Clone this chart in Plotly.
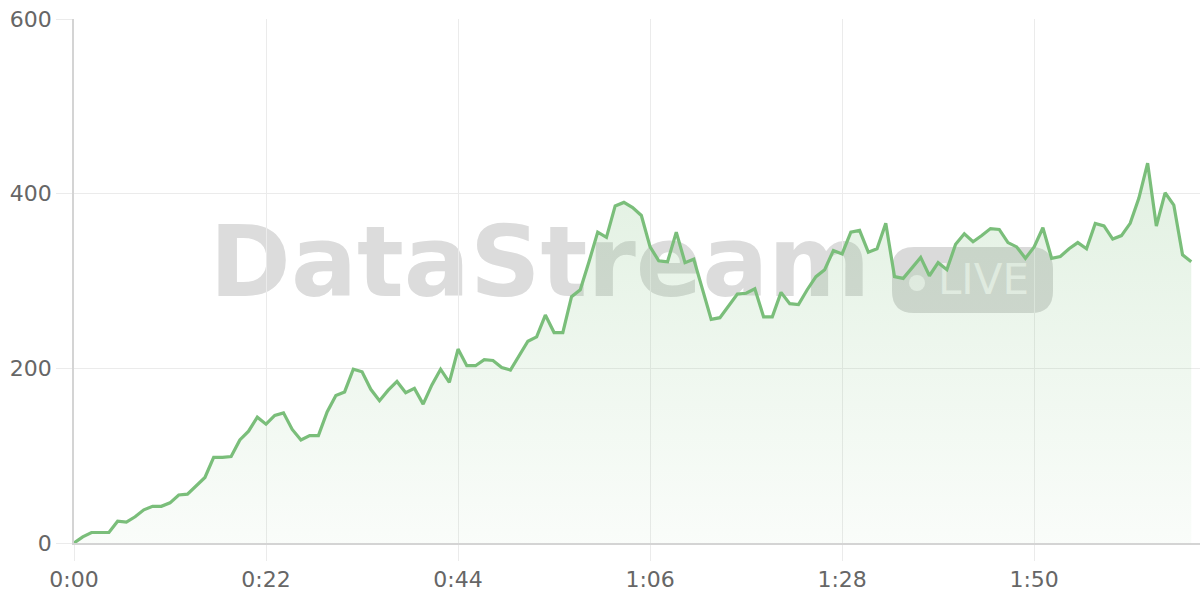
import plotly.graph_objects as go

# ---- data ----
seconds = list(range(0, 129))
values = [
    0, 7, 12, 12, 12, 25, 24, 30, 38, 42,
    42, 46, 55, 56, 65, 75, 98, 98, 99, 118,
    128, 144, 136, 146, 149, 130, 118, 123, 123, 150,
    169, 173, 199, 196, 176, 163, 175, 185, 172, 177,
    159, 181, 199, 184, 222, 203, 203, 210, 209, 201,
    198, 214, 231, 236, 261, 241, 241, 282, 290, 322,
    356, 350, 386, 390, 384, 375, 339, 323, 322, 356,
    321, 325, 292, 256, 258, 271, 285, 286, 291, 259,
    259, 287, 274, 273, 290, 305, 313, 335, 331, 356,
    358, 333, 337, 366, 305, 303, 315, 327, 306, 321,
    313, 342, 354, 345, 352, 360, 359, 344, 339, 326,
    339, 361, 326, 328, 337, 344, 337, 366, 363, 348,
    352, 366, 395, 435, 363, 401, 387, 330, 322,
]
x_tick_vals = [0, 22, 44, 66, 88, 110]
x_tick_text = ["0:00", "0:22", "0:44", "1:06", "1:28", "1:50"]
y_tick_vals = [0, 200, 400, 600]

GREEN = "rgb(122,190,122)"

fig = go.Figure()
fig.add_trace(go.Scatter(
    x=seconds, y=values, mode="lines",
    line=dict(color=GREEN, width=3.2),
    fill="tozeroy",
    fillgradient=dict(
        type="vertical",
        colorscale=[[0, "rgba(122,190,122,0.04)"], [1, "rgba(122,190,122,0.22)"]],
    ),
    hoverinfo="skip",
    showlegend=False,
))

# plot area in pixels: x 74..1200, y 19..543
L, R, T, B = 74, 1200, 19, 543
def px(xp):
    return (xp - L) / (R - L)
def py(yp):
    return (B - yp) / (B - T)

shapes = []
# DataStream watermark text
shapes.append(dict(
    type="rect", xref="paper", yref="paper", layer="below",
    x0=px(196), x1=px(884), y0=py(292), y1=py(217),
    fillcolor="rgba(0,0,0,0)", line=dict(width=0),
    label=dict(text="DataStream", textposition="middle center",
               font=dict(family="DejaVu Sans", size=98, color="#dcdcdc", weight="bold")),
))
# LIVE pill
x0, x1, y0, y1 = px(892), px(1053), py(313), py(247)
rx, ry = 22 / (R - L), 22 / (B - T)
path = (f"M {x0+rx},{y0} L {x1-rx},{y0} Q {x1},{y0} {x1},{y0+ry} "
        f"L {x1},{y1-ry} Q {x1},{y1} {x1-rx},{y1} "
        f"L {x0+rx},{y1} Q {x0},{y1} {x0},{y1-ry} "
        f"L {x0},{y0+ry} Q {x0},{y0} {x0+rx},{y0} Z")
shapes.append(dict(type="path", xref="paper", yref="paper", layer="below",
                   path=path, fillcolor="#dadada", line=dict(width=0)))
# dot
shapes.append(dict(type="circle", xref="paper", yref="paper", layer="below",
                   x0=px(909), x1=px(925), y0=py(291), y1=py(275),
                   fillcolor="#f3f3f3", line=dict(width=0)))
# LIVE text
shapes.append(dict(
    type="rect", xref="paper", yref="paper", layer="below",
    x0=px(935), x1=px(1032), y0=py(296), y1=py(257),
    fillcolor="rgba(0,0,0,0)", line=dict(width=0),
    label=dict(text="LIVE", textposition="middle center",
               font=dict(family="DejaVu Sans", size=42, color="#f3f3f3")),
))

fig.update_layout(
    width=1200, height=600,
    margin=dict(l=L, r=1200 - R, t=T, b=600 - B, autoexpand=False),
    paper_bgcolor="white", plot_bgcolor="white",
    shapes=shapes,
    font=dict(family="DejaVu Sans", size=22, color="#666666"),
)
fig.update_xaxes(
    range=[0, 129], tickvals=x_tick_vals, ticktext=x_tick_text,
    showgrid=True, gridcolor="#ebebeb", gridwidth=1,
    showline=True, linecolor="#d4d4d4", linewidth=1.5,
    ticks="outside", ticklen=16, tickcolor="#ebebeb", tickwidth=1,
    zeroline=False, fixedrange=True, automargin=False,
)
fig.update_yaxes(
    range=[0, 600], tickvals=y_tick_vals,
    showgrid=True, gridcolor="#ebebeb", gridwidth=1,
    showline=True, linecolor="#d4d4d4", linewidth=1.5,
    ticks="outside", ticklen=16, tickcolor="#ebebeb", tickwidth=1,
    zeroline=False, fixedrange=True, automargin=False,
)

fig.write_html(
    "out.html",
    config={"responsive": False, "displayModeBar": False},
    post_script="document.body.style.margin='0';document.body.style.overflow='hidden';",
)
